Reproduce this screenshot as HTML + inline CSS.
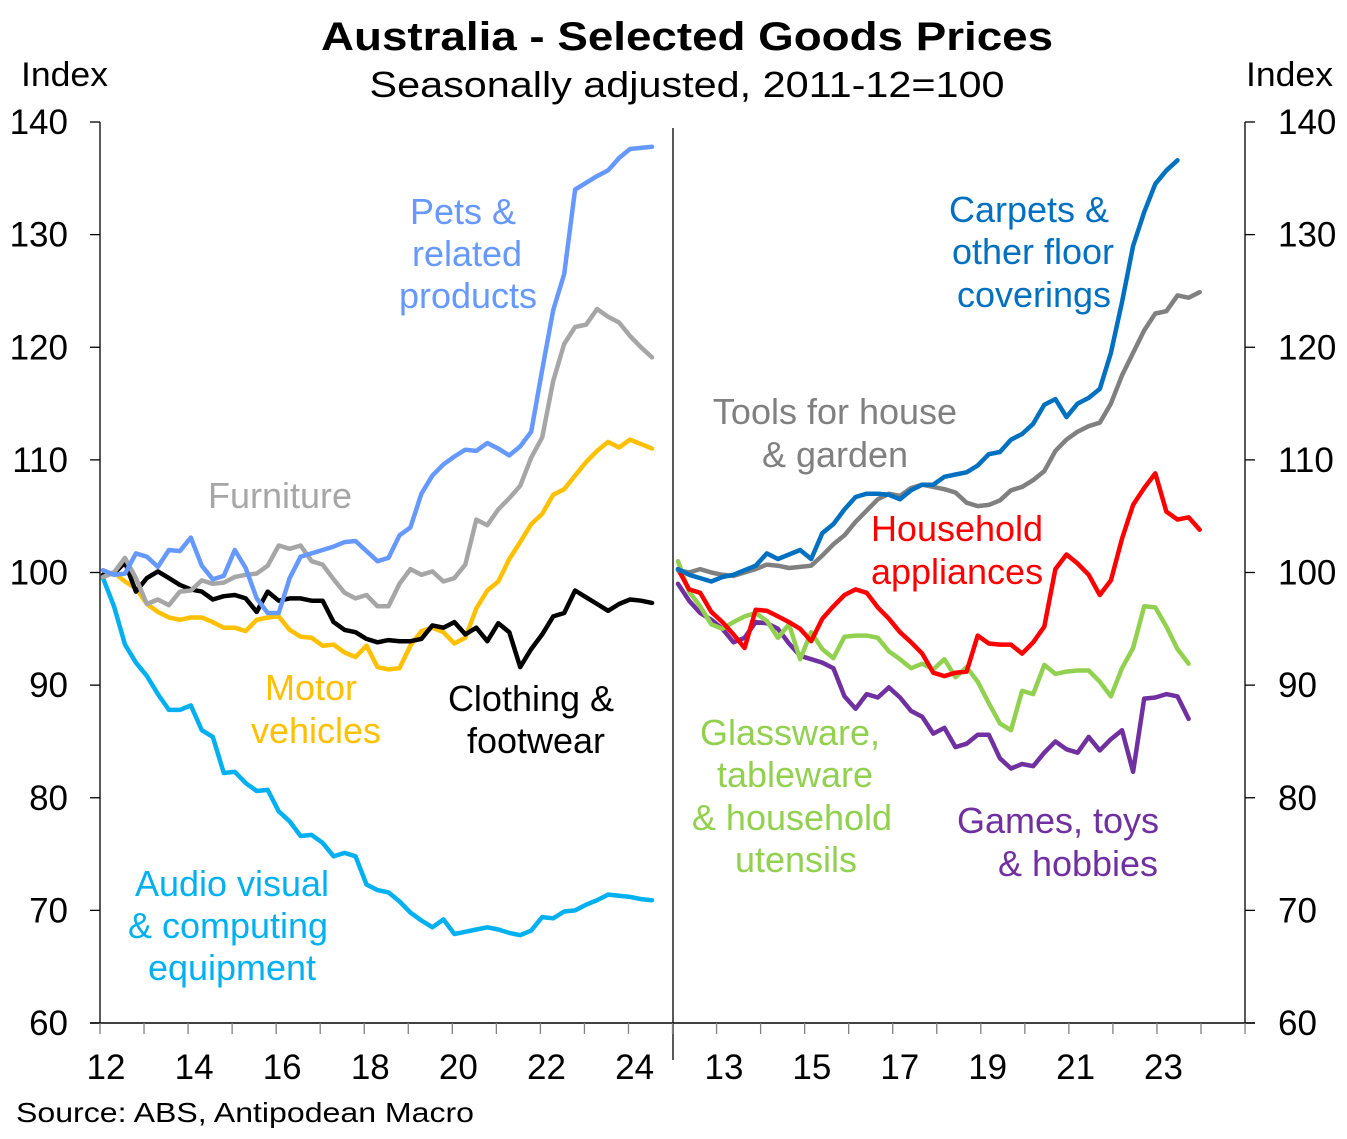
<!DOCTYPE html>
<html><head><meta charset="utf-8"><style>
body{margin:0;background:#fff;}
svg{display:block;font-family:"Liberation Sans",Arial,sans-serif;}
</style></head><body>
<svg id="chart" width="1347" height="1139" viewBox="0 0 1347 1139">
<text x="687" y="50" font-size="40" font-weight="bold" text-anchor="middle" textLength="732" lengthAdjust="spacingAndGlyphs">Australia  - Selected Goods Prices</text>
<text x="687" y="97" font-size="36" text-anchor="middle" textLength="635" lengthAdjust="spacingAndGlyphs">Seasonally adjusted, 2011-12=100</text>
<text x="21" y="86" font-size="34" textLength="87" lengthAdjust="spacingAndGlyphs">Index</text>
<text x="1246" y="86" font-size="34" textLength="87" lengthAdjust="spacingAndGlyphs">Index</text>
<g id="axes"></g>
<g id="lines"></g>
<g font-size="36" text-anchor="middle">
<text fill="#6699FF"><tspan x="463" y="224">Pets &amp;</tspan><tspan x="467" y="266">related</tspan><tspan x="468" y="308">products</tspan></text>
<text x="280" y="508" fill="#A6A6A6">Furniture</text>
<text fill="#FFC000"><tspan x="311" y="700">Motor</tspan><tspan x="316" y="743">vehicles</tspan></text>
<text fill="#000"><tspan x="531" y="711">Clothing &amp;</tspan><tspan x="536" y="753">footwear</tspan></text>
<text fill="#00B0F0"><tspan x="232" y="896">Audio visual</tspan><tspan x="228" y="938">&amp; computing</tspan><tspan x="232" y="980">equipment</tspan></text>
<text fill="#0070C0"><tspan x="1029" y="222">Carpets &amp;</tspan><tspan x="1033" y="264">other floor</tspan><tspan x="1034" y="307">coverings</tspan></text>
<text fill="#808080"><tspan x="835" y="424">Tools for house</tspan><tspan x="835" y="467">&amp; garden</tspan></text>
<text fill="#FF0000"><tspan x="957" y="541">Household</tspan><tspan x="957" y="584">appliances</tspan></text>
<text fill="#92D050"><tspan x="790" y="745">Glassware,</tspan><tspan x="795" y="787">tableware</tspan><tspan x="792" y="830">&amp; household</tspan><tspan x="796" y="872">utensils</tspan></text>
<text fill="#7030A0"><tspan x="1058" y="833">Games, toys</tspan><tspan x="1078" y="876">&amp; hobbies</tspan></text>
</g>
<text x="16" y="1122" font-size="28" textLength="458" lengthAdjust="spacingAndGlyphs">Source: ABS, Antipodean  Macro</text>
</svg>
<script>
const yTicks=[60,70,80,90,100,110,120,130,140];
const leftXLabels=["12","14","16","18","20","22","24"];
const rightXLabels=["13","15","17","19","21","23"];
const pets=[100.2,99.8,99.9,101.7,101.4,100.5,102,101.9,103.1,100.6,99.4,99.7,102,100.4,97.7,96.4,96.4,99.5,101.4,101.7,102,102.3,102.7,102.8,101.9,101,101.3,103.3,104,107,108.6,109.6,110.3,110.9,110.8,111.5,111,110.4,111.2,112.5,118,123.3,126.5,134,134.6,135.2,135.7,136.8,137.6,137.7,137.8];
const furniture=[99.6,100,101.3,99.5,97.2,97.6,97.1,98.3,98.4,99.3,99,99.1,99.6,99.8,99.9,100.6,102.4,102.1,102.4,101,100.7,99.4,98.2,97.7,98,97,97,99,100.3,99.8,100.1,99.2,99.5,100.7,104.7,104.2,105.6,106.6,107.7,110.2,112,117,120.3,121.8,122,123.4,122.7,122.2,121,120,119.1];
const motor=[99.8,100,99.2,98.6,97.2,96.5,96,95.8,96,96,95.6,95.1,95.1,94.8,95.8,96,96.1,94.9,94.3,94.2,93.5,93.6,92.9,92.5,93.5,91.6,91.4,91.5,93.5,94.8,95.1,94.7,93.7,94.2,96.8,98.4,99.2,101.2,102.7,104.3,105.2,106.9,107.4,108.6,109.8,110.8,111.6,111.1,111.8,111.4,111];
const clothing=[99.8,99.9,100.9,98.3,99.5,100.1,99.5,98.9,98.5,98.3,97.6,97.9,98,97.7,96.5,98.3,97.5,97.7,97.7,97.5,97.5,95.6,94.9,94.7,94.1,93.8,94,93.9,93.9,94.1,95.3,95.1,95.6,94.5,95.1,93.9,95.5,94.7,91.6,93.2,94.5,96.1,96.4,98.4,97.8,97.2,96.6,97.2,97.6,97.5,97.3];
const audio=[99.5,97,93.6,92,90.8,89.2,87.8,87.8,88.2,86,85.4,82.2,82.3,81.3,80.6,80.7,78.8,77.9,76.6,76.7,76,74.8,75.1,74.8,72.3,71.8,71.6,70.8,69.8,69.1,68.5,69.2,67.9,68.1,68.3,68.5,68.3,68,67.8,68.2,69.4,69.3,69.9,70,70.5,70.9,71.4,71.3,71.2,71,70.9];
const carpets=[100.3,99.8,99.5,99.2,99.6,99.8,100.2,100.6,101.7,101.2,101.6,102,101.2,103.5,104.3,105.6,106.7,107,107,106.9,106.5,107.3,107.8,107.8,108.5,108.7,108.9,109.5,110.5,110.7,111.8,112.3,113.2,114.9,115.4,113.8,115,115.5,116.3,119.5,124,129,132,134.5,135.7,136.6];
const tools=[100.2,100,100.3,100,99.8,99.7,100,100.3,100.7,100.6,100.4,100.5,100.6,101.5,102.5,103.3,104.5,105.5,106.5,107,106.8,107.5,107.8,107.6,107.4,107.1,106.2,105.9,106,106.4,107.3,107.6,108.2,109,110.8,111.8,112.5,113,113.3,115,117.5,119.5,121.5,123,123.2,124.6,124.4,124.9];
const household=[100.3,98.5,98.2,96.5,95.6,94.5,93.3,96.7,96.6,96.1,95.6,95,93.9,95.9,97,98,98.5,98.2,96.9,95.9,94.7,93.8,92.8,91.1,90.8,91.1,91.2,94.4,93.7,93.6,93.6,92.8,93.8,95.2,100.3,101.6,100.8,99.8,98,99.3,103,106,107.5,108.8,105.4,104.7,104.9,103.8];
const glassware=[101,98.3,97,95.4,95,95.6,96.1,96.4,95.7,94.2,95.4,92.3,94.7,93.2,92.4,94.3,94.4,94.4,94.2,93,92.3,91.5,91.9,91.4,92.3,90.7,91.6,90.3,88.4,86.6,86,89.5,89.2,91.8,91,91.2,91.3,91.3,90.3,89,91.5,93.3,97,96.9,95.2,93.2,91.9];
const games=[99,97.5,96.4,95.8,95,93.8,94.2,95.6,95.5,95,93.7,92.6,92.3,92,91.5,89,87.9,89.2,88.9,89.8,88.9,87.7,87.2,85.7,86.2,84.5,84.8,85.6,85.6,83.5,82.6,83,82.8,84,85,84.3,84,85.4,84.2,85.2,86,82.3,88.8,88.9,89.2,89,87];

const NS="http://www.w3.org/2000/svg";
const Y0=1023,Y1=122;
function yScale(v){return Y0-(v-60)/(140-60)*(Y0-Y1);}
function xLeftFor(n){return i=>103+i*(652-103)/(n-1);}
function xRight(i){return 678+i*11.1;}
const axes=document.getElementById('axes');
function mk(tag,attrs,parent){const e=document.createElementNS(NS,tag);for(const k in attrs)e.setAttribute(k,attrs[k]);parent.appendChild(e);return e;}
mk('line',{x1:100,y1:Y1,x2:100,y2:Y0,stroke:'#000','stroke-width':1.3},axes);
mk('line',{x1:1245,y1:Y1,x2:1245,y2:Y0,stroke:'#000','stroke-width':1.3},axes);
mk('line',{x1:673,y1:128,x2:673,y2:1060,stroke:'#000','stroke-width':1.3},axes);
mk('line',{x1:90,y1:Y0,x2:1255,y2:Y0,stroke:'#000','stroke-width':1.5},axes);
for(const t of yTicks){
  const y=yScale(t);
  mk('line',{x1:90,y1:y,x2:100,y2:y,stroke:'#000','stroke-width':1.3},axes);
  mk('line',{x1:1245,y1:y,x2:1255,y2:y,stroke:'#000','stroke-width':1.3},axes);
  const a=mk('text',{x:68,y:y+12,'font-size':35,'text-anchor':'end'},axes);a.textContent=t;
  
  
  const b=mk('text',{x:1278,y:y+12,'font-size':35},axes);b.textContent=t;
  
  
}
for(let k=0;k<=26;k++){const x=100+k*44.04;mk('line',{x1:x,y1:Y0,x2:x,y2:Y0+11,stroke:'#808080','stroke-width':1.3},axes);}
leftXLabels.forEach((l,i)=>{const e=mk('text',{x:106+i*88.1,y:1079,'font-size':35,'text-anchor':'middle'},axes);e.textContent=l;
  
  });
rightXLabels.forEach((l,i)=>{const e=mk('text',{x:724+i*87.9,y:1079,'font-size':35,'text-anchor':'middle'},axes);e.textContent=l;
  
  });
const lines=document.getElementById('lines');
function draw(data,xf,color,name){
  const d=data.map((v,i)=>(i?'L':'M')+xf(i).toFixed(1)+','+yScale(v).toFixed(1)).join('');
  const p=mk('path',{d:d,fill:'none',stroke:color,'stroke-width':4.5,'stroke-linejoin':'round','stroke-linecap':'round'},lines);
  
  
}
draw(audio,xLeftFor(audio.length),'#00B0F0','audio-visual-line');
draw(motor,xLeftFor(motor.length),'#FFC000','motor-vehicles-line');
draw(clothing,xLeftFor(clothing.length),'#000000','clothing-line');
draw(furniture,xLeftFor(furniture.length),'#A6A6A6','furniture-line');
draw(pets,xLeftFor(pets.length),'#6699FF','pets-line');
draw(games,xRight,'#7030A0','games-line');
draw(glassware,xRight,'#92D050','glassware-line');
draw(household,xRight,'#FF0000','household-appliances-line');
draw(tools,xRight,'#808080','tools-line');
draw(carpets,xRight,'#0070C0','carpets-line');
</script>
</body></html>
